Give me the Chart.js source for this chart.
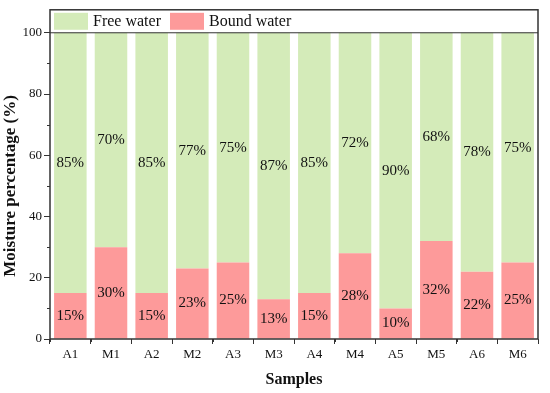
<!DOCTYPE html>
<html>
<head>
<meta charset="utf-8">
<script src="https://cdn.jsdelivr.net/npm/chart.js@4.4.1/dist/chart.umd.min.js"></script>
<style>
  html, body { margin: 0; padding: 0; background: #fff; }
  #wrap { width: 550px; height: 393px; }
</style>
</head>
<body>
<div id="wrap"><canvas id="chartMoisture"></canvas></div>
<script>
const samples = ['A1', 'M1', 'A2', 'M2', 'A3', 'M3', 'A4', 'M4', 'A5', 'M5', 'A6', 'M6'];
const boundWater = [15, 30, 15, 23, 25, 13, 15, 28, 10, 32, 22, 25];
const freeWater = [85, 70, 85, 77, 75, 87, 85, 72, 90, 68, 78, 75];
const yTicks = [0, 20, 40, 60, 80, 100];

const serif = '"Liberation Serif", "Times New Roman", serif';
const frameColor = '#333';

// labels inside bars, frame, minor ticks, legend and y title
const extras = {
  id: 'extras',
  afterDatasetsDraw(chart) {
    const c = chart.ctx;
    c.save();
    c.fillStyle = '#111';
    c.font = '15px ' + serif;
    c.textAlign = 'center';
    c.textBaseline = 'middle';
    chart.data.datasets.forEach((ds, i) => {
      chart.getDatasetMeta(i).data.forEach((bar, j) => {
        c.fillText(ds.data[j] + '%', bar.x, (bar.y + bar.base) / 2);
      });
    });
    c.restore();
  },
  afterDraw(chart) {
    const c = chart.ctx;
    const a = chart.chartArea;
    const y = chart.scales.y;
    const x = chart.scales.x;
    c.save();
    c.strokeStyle = frameColor;
    c.lineWidth = 1.5;
    c.strokeRect(a.left, a.top, a.right - a.left, a.bottom - a.top);

    // minor ticks
    c.lineWidth = 1;
    c.beginPath();
    for (let v = 10; v < 100; v += 20) {
      const py = Math.round(y.getPixelForValue(v)) + 0.5;
      c.moveTo(a.left - 3, py);
      c.lineTo(a.left, py);
    }
    for (let k = 0; k <= samples.length; k++) {
      const px = Math.round(a.left + (a.right - a.left) * k / samples.length) + 0.5;
      c.moveTo(px, a.bottom);
      c.lineTo(px, a.bottom + 3);
    }
    c.stroke();

    // legend band above 100
    const top100 = y.getPixelForValue(100);
    c.lineWidth = 1;
    c.beginPath();
    c.moveTo(a.left, top100);
    c.lineTo(a.right, top100);
    c.stroke();
    c.font = '16px ' + serif;
    c.textAlign = 'left';
    c.textBaseline = 'middle';
    const midY = (a.top + top100) / 2;
    const items = [chart.data.datasets[1], chart.data.datasets[0]];
    const starts = [a.left + 4, a.left + 120];
    items.forEach((ds, i) => {
      c.fillStyle = ds.backgroundColor;
      c.fillRect(starts[i], a.top + 3, 34, top100 - a.top - 6);
      c.fillStyle = '#111';
      c.fillText(ds.label, starts[i] + 39, midY + 1);
    });

    // y title
    c.save();
    c.translate(11, (y.getPixelForValue(0) + top100) / 2);
    c.rotate(-Math.PI / 2);
    c.textAlign = 'center';
    c.font = 'bold 17px ' + serif;
    c.fillStyle = '#111';
    c.fillText('Moisture percentage (%)', 0, 0);
    c.restore();
    c.restore();
  }
};

new Chart(document.getElementById('chartMoisture'), {
  type: 'bar',
  data: {
    labels: samples,
    datasets: [
      {
        label: 'Bound water',
        data: boundWater,
        backgroundColor: '#fd9a9a'
      },
      {
        label: 'Free water',
        data: freeWater,
        backgroundColor: '#d4ebb9'
      }
    ]
  },
  options: {
    responsive: true,
    maintainAspectRatio: false,
    animation: false,
    layout: { padding: { top: 8, right: 12, left: 0, bottom: 0 } },
    datasets: { bar: { categoryPercentage: 1, barPercentage: 0.8 } },
    plugins: {
      legend: { display: false },
      tooltip: { enabled: false }
    },
    scales: {
      x: {
        stacked: true,
        grid: { display: true, drawOnChartArea: false, drawTicks: true, tickLength: 5, color: frameColor },
        border: { display: false },
        ticks: { color: '#111', font: { family: serif, size: 13 }, padding: 3 },
        title: { display: true, text: 'Samples', color: '#111', font: { family: serif, size: 16, weight: 'bold' }, padding: { top: 4 } },
        afterFit(s) { s.height = 54; }
      },
      y: {
        stacked: true,
        min: 0,
        max: 107.5,
        afterBuildTicks(s) { s.ticks = yTicks.map(v => ({ value: v })); },
        grid: { display: true, drawOnChartArea: false, drawTicks: true, tickLength: 6, color: frameColor },
        border: { display: false },
        ticks: { color: '#111', font: { family: serif, size: 13 }, padding: 2 },
        afterFit(s) { s.width = 50; }
      }
    }
  },
  plugins: [extras]
});
</script>
</body>
</html>
